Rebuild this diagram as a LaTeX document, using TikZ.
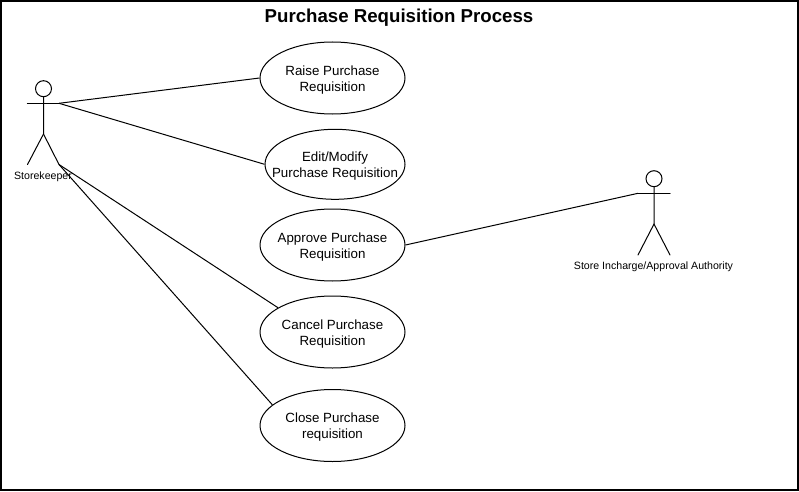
\documentclass[tikz,border=0pt]{standalone}
\usepackage{fontspec}
\setmainfont{Liberation Sans}
\usetikzlibrary{shapes.geometric}
\newcommand\ucstrut{\rule{0pt}{10.3pt}}
\tikzset{
  x=0.75pt,y=-0.75pt,
  usecase/.style={draw=black,ellipse,line width=0.75pt,inner sep=-20pt,minimum width=108.75pt,minimum height=54pt,font=\fontsize{10}{12}\selectfont,align=center,fill=white},
  limb/.style={line width=0.75pt,line cap=round},
  conn/.style={line width=0.75pt},
  actorhead/.style={draw,circle,line width=0.75pt,inner sep=0pt,minimum width=12pt},
  actorlabel/.style={font=\fontsize{7.95}{9}\selectfont,inner sep=0pt}
}
\begin{document}
\begin{tikzpicture}
\useasboundingbox (0,0) rectangle (799,492);
\draw[line width=0.9pt] (1,1) rectangle (798,490);
\node[font=\bfseries\fontsize{14}{16}\selectfont,inner sep=0pt] (title) at (399,18) {Purchase Requisition Process};
% actors
\node[actorhead] (h1) at (43.5,88.7) {};
\coordinate (l1a) at (27.3,103.3);\coordinate (r1a) at (59,103.3);
\coordinate (hip1) at (43.5,134);\coordinate (l1f) at (27.5,164.5);\coordinate (r1f) at (59,164.5);
\draw[limb] (h1.south) -- (hip1) -- (l1f);
\draw[limb] (hip1) -- (r1f);
\draw[limb] (l1a) -- (r1a);
\node[actorlabel] (lab1) at (43,176.5) {Storekeeper};
\node[actorhead] (h2) at (654,178.7) {};
\coordinate (l2a) at (638,193.3);\coordinate (r2a) at (670,193.3);
\coordinate (hip2) at (654,224);\coordinate (l2f) at (638,255);\coordinate (r2f) at (670,255);
\draw[limb] (h2.south) -- (hip2) -- (l2f);
\draw[limb] (hip2) -- (r2f);
\draw[limb] (l2a) -- (r2a);
\node[actorlabel] (lab2) at (653.5,266.5) {Store Incharge/Approval Authority};
% use cases
\node[usecase] (u1) at (332.5,78) {\ucstrut Raise Purchase\\Requisition};
\node[usecase,minimum width=105pt,minimum height=52.5pt] (u2) at (335,164.3) {\ucstrut Edit/Modify\\Purchase Requisition};
\node[usecase] (u3) at (332.5,245) {\ucstrut Approve Purchase\\Requisition};
\node[usecase] (u4) at (332.5,332) {\ucstrut Cancel Purchase\\Requisition};
\node[usecase] (u5) at (332.5,425.5) {\ucstrut Close Purchase\\requisition};
% connectors
\draw[conn] (r1a) -- (u1.west);
\draw[conn] (r1a) -- (u2.west);
\draw[conn] (r1f) -- (u4.156);
\draw[conn] (r1f) -- (u5.161);
\draw[conn] (u3.east) -- (l2a);
\end{tikzpicture}
\end{document}
